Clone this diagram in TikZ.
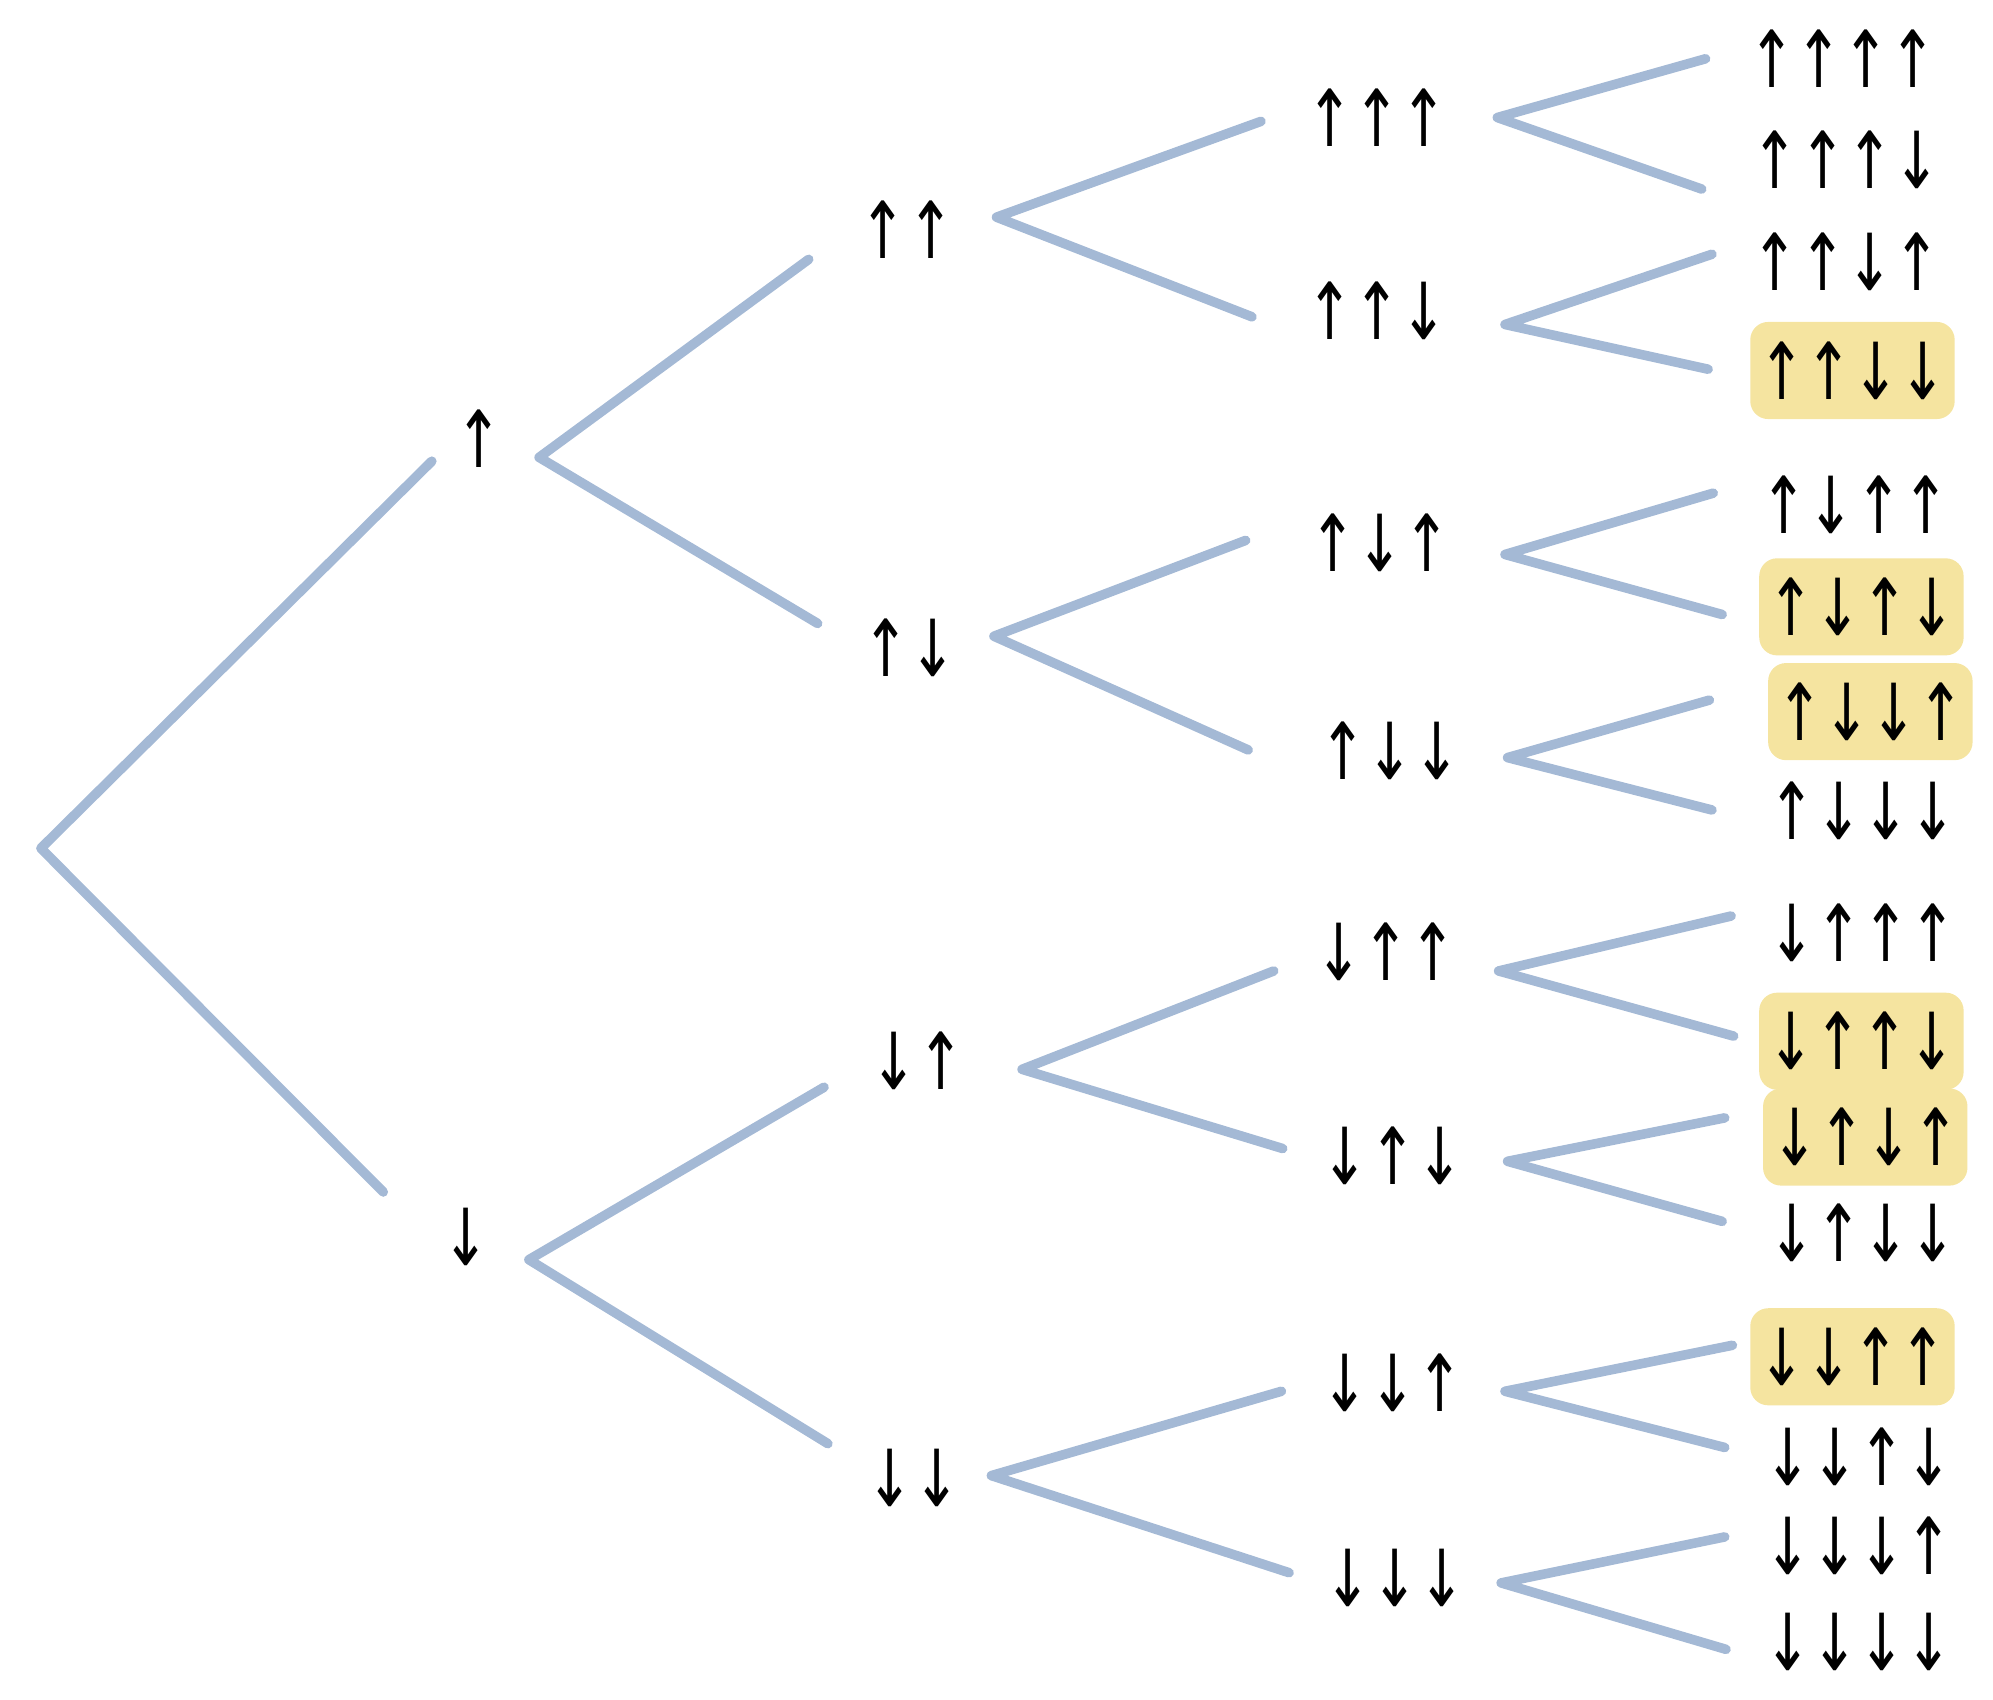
\documentclass[tikz,border=0pt]{standalone}
\usepackage{fontspec}
\usepackage{graphicx}
\setmainfont{DejaVu Sans}
\newcommand{\tall}[1]{\scalebox{1}[1.4]{#1}}
\begin{document}
\begin{tikzpicture}[x=1pt,y=-1pt,
  br/.style={line width=7.5pt, line cap=round, line join=round},
  lab/.style={font=\fontsize{44}{44}\selectfont, inner sep=0pt},
  hl/.style={lab, rounded corners=14pt, minimum width=160pt, minimum height=76pt}]
\useasboundingbox (0,0) rectangle (1560,1330);
\definecolor{brc}{RGB}{164,185,213}
\tikzset{br/.append style={draw=brc}}
\definecolor{hlc}{RGB}{245,228,160}
\tikzset{hl/.append style={fill=hlc}}
% level 1
\node[lab] (u) at (375,343) {\tall{↑}};
\node[lab] (d) at (365,968) {\tall{↓}};
% level 2
\node[lab] (uu) at (710,180) {\tall{↑↑}};
\node[lab] (ud) at (712,507) {\tall{↑↓}};
\node[lab] (du) at (718,830) {\tall{↓↑}};
\node[lab] (dd) at (715,1157) {\tall{↓↓}};
% level 3
\node[lab] (uuu) at (1078,92) {\tall{↑↑↑}};
\node[lab] (uud) at (1078,243) {\tall{↑↑↓}};
\node[lab] (udu) at (1080,425) {\tall{↑↓↑}};
\node[lab] (udd) at (1088,588) {\tall{↑↓↓}};
\node[lab] (duu) at (1085,745) {\tall{↓↑↑}};
\node[lab] (dud) at (1090,905) {\tall{↓↑↓}};
\node[lab] (ddu) at (1090,1082) {\tall{↓↓↑}};
\node[lab] (ddd) at (1092,1235) {\tall{↓↓↓}};
% level 4
\node[lab] (a1) at (1442,46) {\tall{↑↑↑↑}};
\node[lab] (a2) at (1445,125) {\tall{↑↑↑↓}};
\node[lab] (a3) at (1445,205) {\tall{↑↑↓↑}};
\node[hl] (a4) at (1450,290) {\tall{↑↑↓↓}};
\node[lab] (a5) at (1452,395) {\tall{↑↓↑↑}};
\node[hl] (a6) at (1457,475) {\tall{↑↓↑↓}};
\node[hl] (a7) at (1464,557) {\tall{↑↓↓↑}};
\node[lab] (a8) at (1458,635) {\tall{↑↓↓↓}};
\node[lab] (a9) at (1458,730) {\tall{↓↑↑↑}};
\node[hl] (a10) at (1457,815) {\tall{↓↑↑↓}};
\node[hl] (a11) at (1460,890) {\tall{↓↑↓↑}};
\node[lab] (a12) at (1458,965) {\tall{↓↑↓↓}};
\node[hl] (a13) at (1450,1062) {\tall{↓↓↑↑}};
\node[lab] (a14) at (1455,1140) {\tall{↓↓↑↓}};
\node[lab] (a15) at (1455,1210) {\tall{↓↓↓↑}};
\node[lab] (a16) at (1455,1285) {\tall{↓↓↓↓}};
% branches
\coordinate (r) at (32,664);
\coordinate (r1) at (338,361); \coordinate (r2) at (300,933);
\draw[br] (r1) -- (r) -- (r2);
\coordinate (v1) at (422,358);
\draw[br] (633,203) coordinate (e1) -- (v1) -- (640,488) coordinate (e2);
\coordinate (v2) at (414,986);
\draw[br] (645,851) coordinate (e3) -- (v2) -- (648,1130) coordinate (e4);
\foreach \v/\a/\b in {{(780,170)}/{(987,95)}/{(980,248)},
 {(778,498)}/{(975,423)}/{(977,587)},
 {(800,837)}/{(997,760)}/{(1004,899)},
 {(776,1155)}/{(1003,1089)}/{(1009,1231)},
 {(1172,92)}/{(1335,46)}/{(1332,148)},
 {(1178,254)}/{(1340,199)}/{(1337,289)},
 {(1178,434)}/{(1341,386)}/{(1348,481)},
 {(1180,593)}/{(1338,548)}/{(1340,634)},
 {(1173,760)}/{(1355,717)}/{(1357,811)},
 {(1180,909)}/{(1350,875)}/{(1348,956)},
 {(1178,1089)}/{(1356,1053)}/{(1350,1133)},
 {(1175,1239)}/{(1350,1203)}/{(1351,1291)}}
 {\draw[br] \a -- \v -- \b;}
\end{tikzpicture}
\end{document}
